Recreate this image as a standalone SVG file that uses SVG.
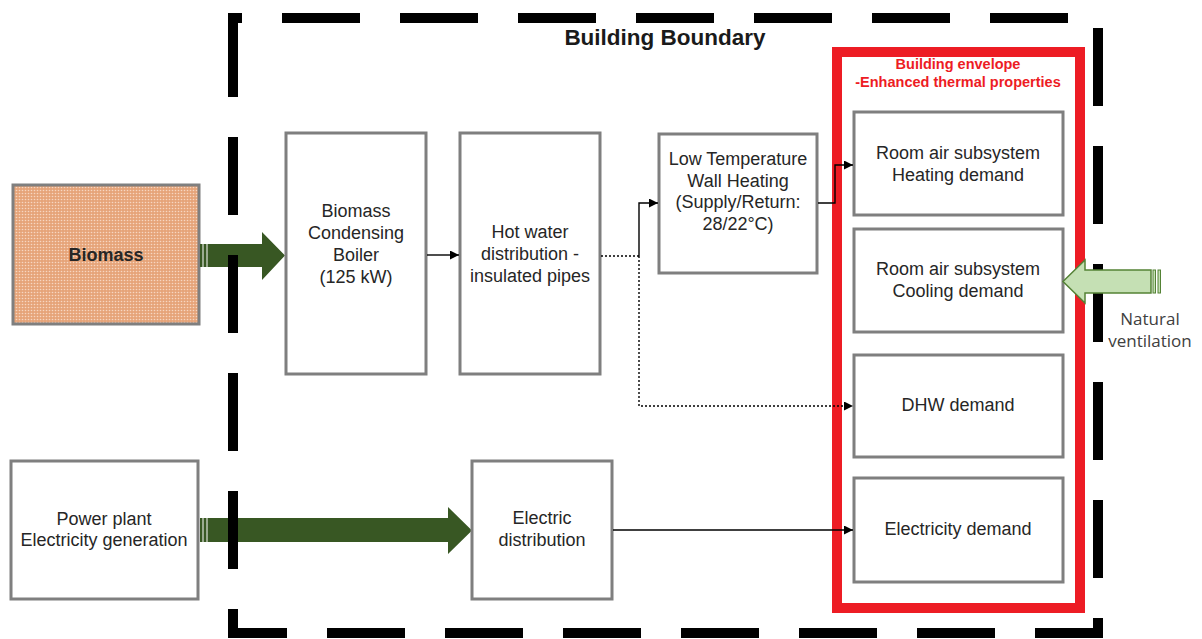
<svg xmlns="http://www.w3.org/2000/svg" width="1202" height="639" viewBox="0 0 1202 639">
  <defs>
    <pattern id="dots" width="3" height="3" patternUnits="userSpaceOnUse">
      <rect width="3" height="3" fill="#e6a479"/>
      <circle cx="1.5" cy="1.5" r="0.8" fill="#f7d6c1"/>
    </pattern>
    <marker id="arr" viewBox="0 0 10 10" refX="10" refY="5" markerWidth="10" markerHeight="9" markerUnits="userSpaceOnUse" orient="auto">
      <path d="M0,0 L10,5 L0,10 Z" fill="#000"/>
    </marker>
    <style>
      .box { fill: #fff; stroke: #7f7f7f; stroke-width: 3; }
      .lbl { font-family: "Liberation Sans", Arial, sans-serif; font-size: 18px; fill: #262626; text-anchor: middle; }
      .conn { fill: none; stroke: #000; stroke-width: 1.4; }
      .dot { stroke-dasharray: 2 2; }
      .flow { fill: #385723; }
    </style>
  </defs>

  <rect width="1202" height="639" fill="#fff"/>

  <!-- source boxes and thick supply arrows -->
  <g id="biomass">
    <rect x="13" y="185" width="186" height="139" fill="url(#dots)" stroke="#7f7f7f" stroke-width="3"/>
    <text class="lbl" x="106" y="261" font-weight="bold" font-size="17.5">Biomass</text>
  </g>
  <g id="biomass-arrow">
    <rect class="flow" x="200" y="244" width="2.5" height="23"/>
    <rect class="flow" x="203.5" y="244" width="3" height="23"/>
    <path class="flow" d="M207.5,244 H262 V232 L285,255.5 L262,280 V267 H207.5 Z"/>
  </g>
  <g id="power-plant">
    <rect class="box" x="11" y="461" width="187" height="138"/>
    <text class="lbl" x="104" y="525">Power plant</text>
    <text class="lbl" x="104" y="546">Electricity generation</text>
  </g>
  <g id="power-arrow">
    <rect class="flow" x="200" y="518" width="2.5" height="24"/>
    <rect class="flow" x="203.5" y="518" width="3" height="24"/>
    <path class="flow" d="M207.5,518 H448 V507 L472,530.5 L448,554 V542 H207.5 Z"/>
  </g>

  <!-- building boundary -->
  <g id="building-boundary">
    <path d="M233,28 V18 H1098 V633 H233 V28" fill="none" stroke="#000" stroke-width="10" stroke-dasharray="78 40" stroke-dashoffset="59"/>
    <text x="665" y="45" font-family="Liberation Sans, Arial, sans-serif" font-size="22.5" font-weight="bold" fill="#1a1a1a" text-anchor="middle">Building Boundary</text>
  </g>

  <!-- building envelope -->
  <g id="building-envelope">
    <rect x="837" y="52" width="243" height="556" fill="none" stroke="#ed1c24" stroke-width="10"/>
    <text x="958" y="69" font-family="Liberation Sans, Arial, sans-serif" font-size="14.5" font-weight="bold" fill="#ed1c24" text-anchor="middle">Building envelope</text>
    <text x="958" y="87" font-family="Liberation Sans, Arial, sans-serif" font-size="14.5" font-weight="bold" fill="#ed1c24" text-anchor="middle">-Enhanced thermal properties</text>
  </g>

  <g id="boiler">
    <rect class="box" x="286" y="133" width="140" height="241"/>
    <text class="lbl" x="356" y="217">Biomass</text>
    <text class="lbl" x="356" y="239">Condensing</text>
    <text class="lbl" x="356" y="261">Boiler</text>
    <text class="lbl" x="356" y="283">(125 kW)</text>
  </g>
  <g id="hot-water">
    <rect class="box" x="460" y="133" width="140" height="241"/>
    <text class="lbl" x="530" y="238">Hot water</text>
    <text class="lbl" x="530" y="260">distribution -</text>
    <text class="lbl" x="530" y="282">insulated pipes</text>
  </g>
  <g id="wall-heating">
    <rect class="box" x="659" y="134" width="158" height="139"/>
    <text class="lbl" x="738" y="165">Low Temperature</text>
    <text class="lbl" x="738" y="187">Wall Heating</text>
    <text class="lbl" x="738" y="208">(Supply/Return:</text>
    <text class="lbl" x="738" y="230">28/22°C)</text>
  </g>
  <g id="electric-distribution">
    <rect class="box" x="472" y="461" width="140" height="138"/>
    <text class="lbl" x="542" y="524">Electric</text>
    <text class="lbl" x="542" y="546">distribution</text>
  </g>

  <g id="heating-demand">
    <rect class="box" x="854" y="112" width="209" height="103"/>
    <text class="lbl" x="958" y="159">Room air subsystem</text>
    <text class="lbl" x="958" y="181">Heating demand</text>
  </g>
  <g id="cooling-demand">
    <rect class="box" x="854" y="229" width="209" height="103"/>
    <text class="lbl" x="958" y="275">Room air subsystem</text>
    <text class="lbl" x="958" y="297">Cooling demand</text>
  </g>
  <g id="dhw-demand">
    <rect class="box" x="854" y="355" width="209" height="102"/>
    <text class="lbl" x="958" y="411">DHW demand</text>
  </g>
  <g id="electricity-demand">
    <rect class="box" x="854" y="478" width="209" height="104"/>
    <text class="lbl" x="958" y="535">Electricity demand</text>
  </g>

  <!-- natural ventilation inflow -->
  <g id="natural-ventilation">
    <rect x="1153" y="270" width="2.5" height="23" fill="#c5e0b4" stroke="#548235" stroke-width="1"/>
    <rect x="1158" y="270" width="2.5" height="23" fill="#c5e0b4" stroke="#548235" stroke-width="1"/>
    <path d="M1063,281.5 L1085,260 V270 H1151 V293 H1085 V303 Z" fill="#c5e0b4" stroke="#548235" stroke-width="1.5" stroke-linejoin="miter"/>
    <text x="1150" y="325" font-family="Open Sans, sans-serif" font-size="17" fill="#404040" text-anchor="middle">Natural</text>
    <text x="1150" y="347" font-family="Open Sans, sans-serif" font-size="17" fill="#404040" text-anchor="middle">ventilation</text>
  </g>

  <!-- connectors -->
  <g id="connectors">
    <path class="conn" d="M427,255 H459" marker-end="url(#arr)"/>
    <path class="conn dot" d="M601,256 H639"/>
    <path class="conn" d="M639,256 V203 H658" marker-end="url(#arr)"/>
    <path class="conn dot" d="M639,256 V406 H853" marker-end="url(#arr)"/>
    <path class="conn" d="M818,203 H835 V165 H853" marker-end="url(#arr)"/>
    <path class="conn" d="M613,530 H853" marker-end="url(#arr)"/>
  </g>
</svg>
